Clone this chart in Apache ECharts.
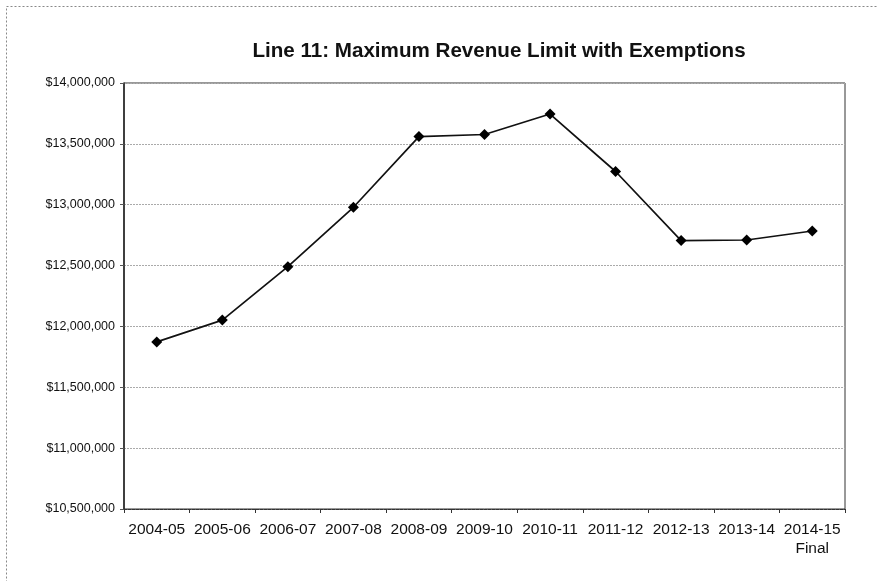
<!DOCTYPE html>
<html>
<head>
<meta charset="utf-8">
<script src="https://cdn.jsdelivr.net/npm/echarts@6/dist/echarts.min.js"></script>
<style>
  html, body { margin: 0; padding: 0; background: #fff; }
  #chart { width: 877px; height: 581px; }
</style>
</head>
<body>
<div id="chart"></div>
<script>
// School years on the category axis
const years = ['2004-05', '2005-06', '2006-07', '2007-08', '2008-09', '2009-10',
               '2010-11', '2011-12', '2012-13', '2013-14', '2014-15\nFinal'];
// Maximum revenue limit with exemptions, dollars
const revenueLimit = [11873000, 12052000, 12491000, 12979000, 13560000, 13577000,
                      13745000, 13273000, 12705000, 12710000, 12784000];
// Value axis range and step
const yMin = 10500000;
const yMax = 14000000;
const yStep = 500000;

const fmtDollars = v => '$' + Math.round(v).toString().replace(/\B(?=(\d{3})+(?!\d))/g, ',');

const chart = echarts.init(document.getElementById('chart'), null, { renderer: 'canvas' });
chart.setOption({
  backgroundColor: '#fff',
  animation: false,
  title: {
    text: 'Line 11: Maximum Revenue Limit with Exemptions',
    left: 494,
    top: 36,
    textAlign: 'center',
    textStyle: { fontFamily: 'Liberation Sans, Arial', fontSize: 20.6, fontWeight: 'bold', color: '#111' }
  },
  graphic: [
    {
      type: 'rect',
      shape: { x: 6.5, y: 6.5, width: 900, height: 600 },
      style: { fill: 'none', stroke: '#888', lineWidth: 1, lineDash: [2, 2] },
      silent: true
    }
  ],
  grid: { left: 124, right: 32, top: 83, bottom: 72, show: true, borderColor: '#333', borderWidth: 1 },
  xAxis: {
    type: 'category',
    data: years,
    boundaryGap: true,
    axisLine: { lineStyle: { color: '#333', width: 1, type: [3, 1] } },
    axisTick: { show: true, alignWithLabel: false, length: 4, lineStyle: { color: '#333' } },
    axisLabel: {
      interval: 0,
      margin: 11,
      fontFamily: 'Liberation Sans, Arial',
      fontSize: 15.5,
      color: '#111',
      lineHeight: 19
    },
    splitLine: { show: false }
  },
  yAxis: {
    type: 'value',
    min: yMin,
    max: yMax,
    interval: yStep,
    axisLine: { show: true, lineStyle: { color: '#222', width: 1.5 } },
    axisTick: { show: true, length: 4, lineStyle: { color: '#555' } },
    axisLabel: {
      margin: 9,
      formatter: fmtDollars,
      fontFamily: 'Liberation Sans, Arial',
      fontSize: 12.5,
      color: '#111'
    },
    splitLine: { show: true, lineStyle: { color: '#aaa', width: 1, type: [2, 1] } }
  },
  series: [
    {
      type: 'line',
      data: revenueLimit,
      symbol: 'diamond',
      symbolSize: 11,
      itemStyle: { color: '#000' },
      lineStyle: { color: '#111', width: 1.7 },
      z: 5
    }
  ]
});
</script>
</body>
</html>
